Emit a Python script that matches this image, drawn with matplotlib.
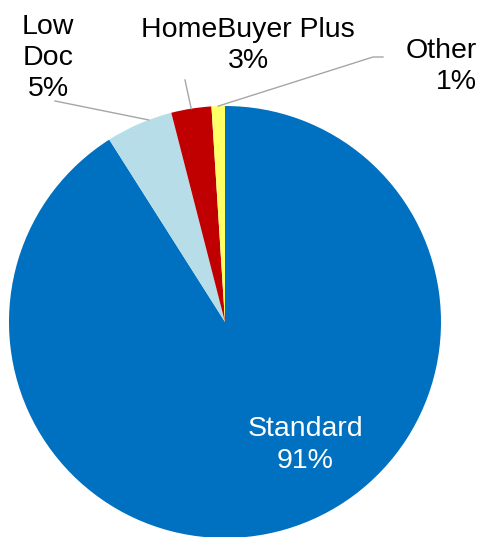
import matplotlib
matplotlib.use("Agg")
import matplotlib.pyplot as plt
import numpy as np

categories = ["Standard", "Low Doc", "HomeBuyer Plus", "Other"]
values = [91, 5, 3, 1]
colors = ["#0070C0", "#B7DEE8", "#C00000", "#FFFF66"]

W, H = 481, 537
fig = plt.figure(figsize=(W / 100, H / 100), dpi=100)
ax = fig.add_axes([0, 0, 1, 1])

cx, cy, r = 225, H - 322, 216
wedges, _ = ax.pie(values, colors=colors, startangle=90, counterclock=False,
                   center=(cx, cy), radius=r, frame=True,
                   wedgeprops=dict(linewidth=0))
ax.set_xlim(0, W)
ax.set_ylim(0, H)
ax.set_aspect("equal")
ax.axis("off")

font = dict(family=["Liberation Sans", "DejaVu Sans"], fontsize=20.5)
lc = "#A6A6A6"

def edge_point(w, frac=0.5):
    ang = np.deg2rad(w.theta1 + (w.theta2 - w.theta1) * frac)
    return cx + r * np.cos(ang), cy + r * np.sin(ang)

# Standard label
ax.text(305, H - 445, f"{categories[0]}\n{values[0]}%", color="white",
        ha="center", va="center", linespacing=1.25, **font)

# Low Doc
px, py = edge_point(wedges[1], 0.35)
ax.plot([55, px], [H - 101, py], color=lc, lw=1)
ax.text(48, H - 58, f"Low\nDoc\n{values[1]}%", ha="center", va="center",
        linespacing=1.25, **font)

# HomeBuyer Plus
px, py = edge_point(wedges[2], 0.5)
ax.plot([185, px], [H - 80, py], color=lc, lw=1)
ax.text(248, H - 45, f"{categories[2]}\n{values[2]}%", ha="center", va="center",
        linespacing=1.25, **font)

# Other
px, py = edge_point(wedges[3], 0.5)
ax.plot([383, 373, px], [H - 57, H - 57, py], color=lc, lw=1)
ax.text(477, H - 66, f"{categories[3]}\n{values[3]}%", ha="right", va="center",
        linespacing=1.25, **font)

fig.savefig("out.png", dpi=100)
